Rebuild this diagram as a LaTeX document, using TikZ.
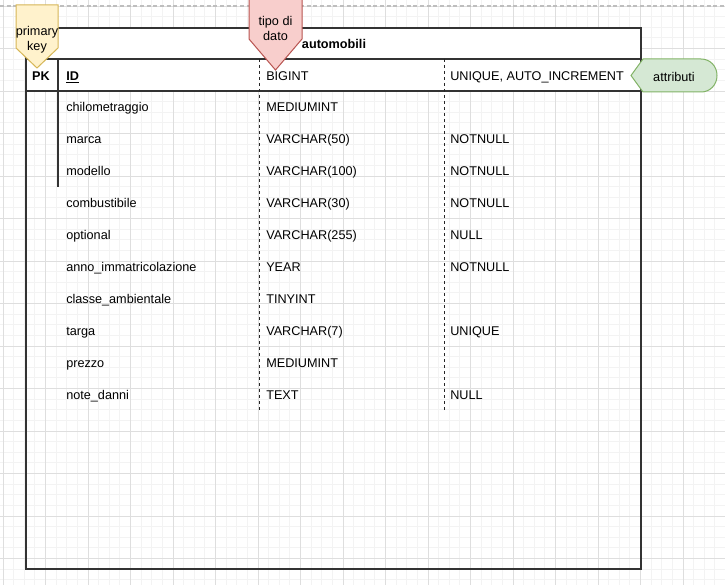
\documentclass[tikz,border=0pt]{standalone}
\usepackage{fontspec}
\setmainfont{Liberation Sans}
\definecolor{gridmajor}{RGB}{222,222,222}
\definecolor{gridminor}{RGB}{243,243,243}
\definecolor{pagedash}{RGB}{190,190,190}
\definecolor{tableline}{RGB}{51,51,51}
\definecolor{keyfill}{RGB}{255,242,204}
\definecolor{keydraw}{RGB}{214,182,86}
\definecolor{typefill}{RGB}{248,206,204}
\definecolor{typedraw}{RGB}{184,84,80}
\definecolor{attrfill}{RGB}{213,232,212}
\definecolor{attrdraw}{RGB}{130,179,102}
\begin{document}
\begin{tikzpicture}[x=0.75pt,y=-0.75pt,
  txt/.style={inner sep=0pt,font=\fontsize{9.5}{11.5}\selectfont},
  cell/.style={txt,anchor=west,text height=6.9pt,text depth=0pt},
  tagtext/.style={txt,align=center},
  border/.style={draw=tableline,line width=1.1pt},
  coldash/.style={draw=black!85,line width=0.7pt,dash pattern=on 2.25pt off 2.25pt},
  keytag/.style={fill=keyfill,draw=keydraw,line width=0.75pt},
  typetag/.style={fill=typefill,draw=typedraw,line width=0.75pt},
  attrtag/.style={fill=attrfill,draw=attrdraw,line width=0.75pt}]
\useasboundingbox (0,0) rectangle (725,585);
\fill[white] (0,0) rectangle (725,585);

% background grid: fine lines, with a stronger line every fourth
\foreach \i in {0,...,68} {
  \draw[gridminor,line width=0.6pt] ({3+10.625*\i},0) -- ({3+10.625*\i},585);
}
\foreach \j in {0,...,55} {
  \draw[gridminor,line width=0.6pt] (0,{6+10.625*\j}) -- (725,{6+10.625*\j});
}
\foreach \i in {0,...,17} {
  \draw[gridmajor,line width=0.7pt] ({3+42.5*\i},0) -- ({3+42.5*\i},585);
}
\foreach \j in {0,...,13} {
  \draw[gridmajor,line width=0.7pt] (0,{6+42.5*\j}) -- (725,{6+42.5*\j});
}
\draw[pagedash,line width=0.8pt,dash pattern=on 3pt off 2pt] (0,6) -- (725,6);

% table: white title bar and key row, transparent body
\fill[white] (26,28) rectangle (641,91);
\draw[border] (26,28) rectangle (641,569);
\draw[border] (26,59) -- (641,59);
\draw[border] (26,91) -- (641,91);
\draw[border] (58,59) -- (58,187);

\coordinate (typetop) at (259,59);
\coordinate (typebot) at (259,410);
\coordinate (attrtop) at (444,59);
\coordinate (attrbot) at (444,410);
\draw[coldash] (typetop) -- (typebot);
\draw[coldash] (attrtop) -- (attrbot);

\node[txt,text height=6.9pt,text depth=0pt,font=\fontsize{9.5}{11.5}\selectfont\bfseries] (title) at (334,43.5) {automobili};

% key row
\node[txt,text height=6.9pt,text depth=0pt,font=\fontsize{9.5}{11.5}\selectfont\bfseries] (pk) at (41,75.5) {PK};
\node[cell,font=\fontsize{9.5}{11.5}\selectfont\bfseries] (name0) at (66,75.5) {\underline{ID}};
\node[cell] (type0) at (266,75.5) {BIGINT};
\node[cell] (attr0) at (450,75.5) {UNIQUE, AUTO\_INCREMENT};

% remaining columns
\foreach \nm/\ty/\at [count=\k] in {
  chilometraggio/MEDIUMINT/{},
  marca/VARCHAR(50)/NOTNULL,
  modello/VARCHAR(100)/NOTNULL,
  combustibile/VARCHAR(30)/NOTNULL,
  optional/VARCHAR(255)/NULL,
  anno\_immatricolazione/YEAR/NOTNULL,
  classe\_ambientale/TINYINT/{},
  targa/VARCHAR(7)/UNIQUE,
  prezzo/MEDIUMINT/{},
  note\_danni/TEXT/NULL} {
  \node[cell] (name\k) at (66,{75.5+31.9*\k}) {\nm};
  \node[cell] (type\k) at (266,{75.5+31.9*\k}) {\ty};
  \node[cell] (attr\k) at (450,{75.5+31.9*\k}) {\at};
}

% callout tags
\draw[keytag] (16,5) -- (58,5) -- (58,48) -- (37,68) -- (16,48) -- cycle;
\node[tagtext] (keylabel) at (37,39.5) {primary\\key};

\draw[typetag] (249,-2) -- (302,-2) -- (302,39) -- (275.5,70) -- (249,39) -- cycle;
\node[tagtext] (typelabel) at (275.5,28.5) {tipo di\\dato};

\draw[attrtag] (631,75.5) -- (643,59) -- (701,59)
  .. controls (710,59) and (717,66) .. (717,75.5)
  .. controls (717,85) and (710,92) .. (701,92) -- (643,92) -- cycle;
\node[txt,text height=6.9pt,text depth=0pt] (attrlabel) at (674,76.5) {attributi};
\end{tikzpicture}
\end{document}
